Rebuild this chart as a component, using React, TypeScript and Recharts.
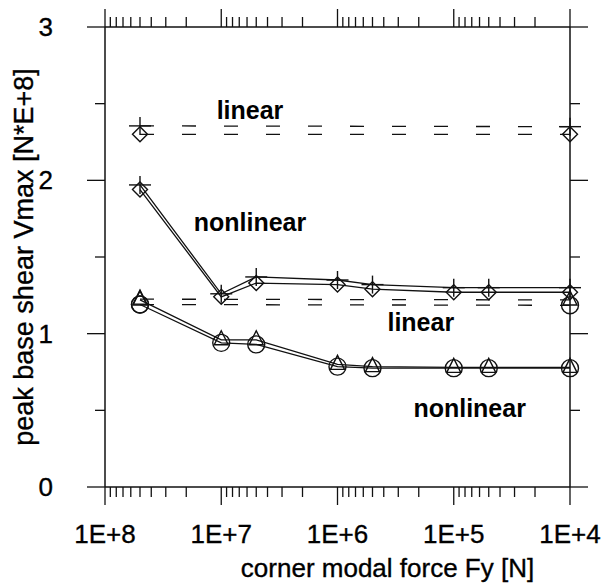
import React from 'react';
import { ComposedChart, Line, XAxis, YAxis, ReferenceDot } from 'recharts';

// ---- data ----
const forces = [5e7, 1e7, 5e6, 1e6, 5e5, 1e5, 5e4, 1e4];
const nonlinearPlus = [1.97, 1.26, 1.37, 1.35, 1.32, 1.3, 1.3, 1.3];
const nonlinearDiamond = [1.94, 1.24, 1.33, 1.32, 1.29, 1.27, 1.27, 1.27];
const nonlinearTriangle = [1.22, 0.96, 0.96, 0.8, 0.785, 0.78, 0.78, 0.78];
const nonlinearCircle = [1.19, 0.94, 0.93, 0.785, 0.775, 0.775, 0.775, 0.775];

const linearForces = [5e7, 1e4];
const linearPlus = [2.355, 2.35];
const linearDiamond = [2.3, 2.3];
const linearTriangle = [1.225, 1.22];
const linearCircle = [1.19, 1.185];

const xMajorTicks = [1e8, 1e7, 1e6, 1e5, 1e4];
const xMajorLabels = ['1E+8', '1E+7', '1E+6', '1E+5', '1E+4'];
const xMinorTicks = [
  9e7, 8e7, 7e7, 6e7, 5e7, 4e7, 3e7, 2e7,
  9e6, 8e6, 7e6, 6e6, 5e6, 4e6, 3e6, 2e6,
  9e5, 8e5, 7e5, 6e5, 5e5, 4e5, 3e5, 2e5,
  9e4, 8e4, 7e4, 6e4, 5e4, 4e4, 3e4, 2e4,
];
const yMajorTicks = [0, 1, 2, 3];
const yMajorLabels = ['0', '1', '2', '3'];
const yMinorTicks = [0.5, 1.5, 2.5];

const annotationTexts = ['linear', 'nonlinear', 'linear', 'nonlinear'];
const annotationX = [5.66e6, 5.66e6, 1.92e5, 7.3e4];
const annotationY = [2.46, 1.73, 1.076, 0.515];

const xLabel = 'corner modal force Fy [N]';
const yLabel = 'peak base shear Vmax [N*E+8]';

// ---- helpers ----
const FONT = '"Liberation Sans", Arial, sans-serif';
const toRows = (xs: number[], ys: number[]) => xs.map((x, i) => ({ x, y: ys[i] }));
const allXTicks = [...xMajorTicks, ...xMinorTicks].sort((a, b) => b - a);
const allYTicks = [...yMajorTicks, ...yMinorTicks].sort((a, b) => a - b);
const STROKE = '#111';
const textStyle = { fontSize: 26, fontFamily: FONT, fill: '#000', stroke: '#000', strokeWidth: 0.35 };

const PlusDot = (p: any) => {
  const { cx, cy } = p;
  return (
    <g key={`p-${p.index}-${cx}`}>
      <line x1={cx - 11} x2={cx + 11} y1={cy} y2={cy} stroke={STROKE} strokeWidth={1.4} />
      <line x1={cx} x2={cx} y1={cy - 9} y2={cy + 9} stroke={STROKE} strokeWidth={1.4} />
    </g>
  );
};
const DiamondDot = (p: any) => {
  const { cx, cy } = p;
  const r = 7.5;
  return (
    <path
      key={`d-${p.index}-${cx}`}
      d={`M${cx},${cy - r}L${cx + r},${cy}L${cx},${cy + r}L${cx - r},${cy}Z`}
      fill="none"
      stroke={STROKE}
      strokeWidth={1.4}
    />
  );
};
const TriangleDot = (p: any) => {
  const { cx, cy } = p;
  return (
    <path
      key={`t-${p.index}-${cx}`}
      d={`M${cx},${cy - 9}L${cx + 7},${cy + 5}L${cx - 7},${cy + 5}Z`}
      fill="none"
      stroke={STROKE}
      strokeWidth={1.4}
    />
  );
};
const CircleDot = (p: any) => {
  const { cx, cy } = p;
  return <circle key={`c-${p.index}-${cx}`} cx={cx} cy={cy} r={8.5} fill="none" stroke={STROKE} strokeWidth={1.4} />;
};

const BottomTick = (props: any) => {
  const { x, y, payload } = props;
  const idx = xMajorTicks.indexOf(payload.value);
  const major = idx >= 0;
  return (
    <g>
      <line x1={x} x2={x} y1={y} y2={y + (major ? 18 : 10)} stroke={STROKE} strokeWidth={1.3} />
      {major && (
        <text x={x} y={y + 56} textAnchor="middle" style={textStyle}>
          {xMajorLabels[idx]}
        </text>
      )}
    </g>
  );
};
const TopTick = (props: any) => {
  const { x, y, payload } = props;
  const major = xMajorTicks.indexOf(payload.value) >= 0;
  return <line x1={x} x2={x} y1={y} y2={y - (major ? 18 : 10)} stroke={STROKE} strokeWidth={1.3} />;
};
const LeftTick = (props: any) => {
  const { x, y, payload } = props;
  const idx = yMajorTicks.indexOf(payload.value);
  const major = idx >= 0;
  return (
    <g>
      <line x1={x} x2={x - (major ? 18 : 10)} y1={y} y2={y} stroke={STROKE} strokeWidth={1.3} />
      {major && (
        <text x={x - 52} y={y + 9} textAnchor="end" style={textStyle}>
          {yMajorLabels[idx]}
        </text>
      )}
    </g>
  );
};
const RightTick = (props: any) => {
  const { x, y, payload } = props;
  const major = yMajorTicks.indexOf(payload.value) >= 0;
  return <line x1={x} x2={x + (major ? 18 : 10)} y1={y} y2={y} stroke={STROKE} strokeWidth={1.3} />;
};

const XTitle = (props: any) => {
  const vb = props.viewBox || { x: 105, y: 487, width: 465, height: 96 };
  return (
    <text x={vb.x + vb.width / 2 + 50} y={vb.y + vb.height - 6} textAnchor="middle" style={textStyle}>
      {xLabel}
    </text>
  );
};
const YTitle = (props: any) => {
  const vb = props.viewBox || { x: 0, y: 27, width: 105, height: 460 };
  const cx = vb.x + 33;
  const cy = vb.y + vb.height / 2;
  return (
    <text x={cx} y={cy} textAnchor="middle" transform={`rotate(-90, ${cx}, ${cy})`} style={{ ...textStyle, fontSize: 27 }}>
      {yLabel}
    </text>
  );
};

export default function App() {
  const xProps = {
    type: 'number' as const,
    scale: 'log' as const,
    domain: [1e4, 1e8],
    reversed: true,
    ticks: allXTicks,
    interval: 0 as const,
    tickSize: 0,
    tickMargin: 0,
    tickLine: false,
    axisLine: { stroke: STROKE, strokeWidth: 1.5 },
  };
  const yProps = {
    type: 'number' as const,
    domain: [0, 3],
    ticks: allYTicks,
    interval: 0 as const,
    tickSize: 0,
    tickMargin: 0,
    tickLine: false,
    axisLine: { stroke: STROKE, strokeWidth: 1.5 },
  };
  const solid = { stroke: STROKE, strokeWidth: 1.3, isAnimationActive: false, dataKey: 'y', type: 'linear' as const };
  const dashed = { ...solid, strokeDasharray: '14 28' };

  return (
    <div style={{ position: 'absolute', left: 0, top: 0, background: '#fff' }}>
      <ComposedChart width={606} height={583} margin={{ top: 0, right: 0, bottom: 0, left: 0 }}>
        <XAxis
          {...xProps}
          dataKey="x"
          xAxisId="bottom"
          orientation="bottom"
          height={96}
          tick={<BottomTick />}
          label={{ content: XTitle }}
        />
        <XAxis {...xProps} allowDataOverflow dataKey="x" xAxisId="top" orientation="top" height={27} tick={<TopTick />} />
        <YAxis {...yProps} yAxisId="left" orientation="left" width={105} tick={<LeftTick />} label={{ content: YTitle }} />
        <YAxis {...yProps} allowDataOverflow yAxisId="right" orientation="right" width={36} tick={<RightTick />} />

        <Line {...dashed} xAxisId="bottom" yAxisId="left" data={toRows(linearForces, linearPlus)} dot={PlusDot} />
        <Line {...dashed} xAxisId="bottom" yAxisId="left" data={toRows(linearForces, linearDiamond)} dot={DiamondDot} />
        <Line {...dashed} xAxisId="bottom" yAxisId="left" data={toRows(linearForces, linearTriangle)} dot={TriangleDot} />
        <Line {...dashed} xAxisId="bottom" yAxisId="left" data={toRows(linearForces, linearCircle)} dot={CircleDot} />

        <Line {...solid} xAxisId="bottom" yAxisId="left" data={toRows(forces, nonlinearPlus)} dot={PlusDot} />
        <Line {...solid} xAxisId="bottom" yAxisId="left" data={toRows(forces, nonlinearDiamond)} dot={DiamondDot} />
        <Line {...solid} xAxisId="bottom" yAxisId="left" data={toRows(forces, nonlinearTriangle)} dot={TriangleDot} />
        <Line {...solid} xAxisId="bottom" yAxisId="left" data={toRows(forces, nonlinearCircle)} dot={CircleDot} />

        {annotationTexts.map((t, i) => (
          <ReferenceDot
            key={`ann-${i}`}
            xAxisId="bottom"
            yAxisId="left"
            x={annotationX[i]}
            y={annotationY[i]}
            r={0}
            fill="none"
            stroke="none"
            ifOverflow="visible"
            label={{
              value: t,
              position: 'center',
              style: { fontSize: 25, fontWeight: 'bold', fontFamily: FONT, fill: '#000' },
            }}
          />
        ))}
      </ComposedChart>
    </div>
  );
}
